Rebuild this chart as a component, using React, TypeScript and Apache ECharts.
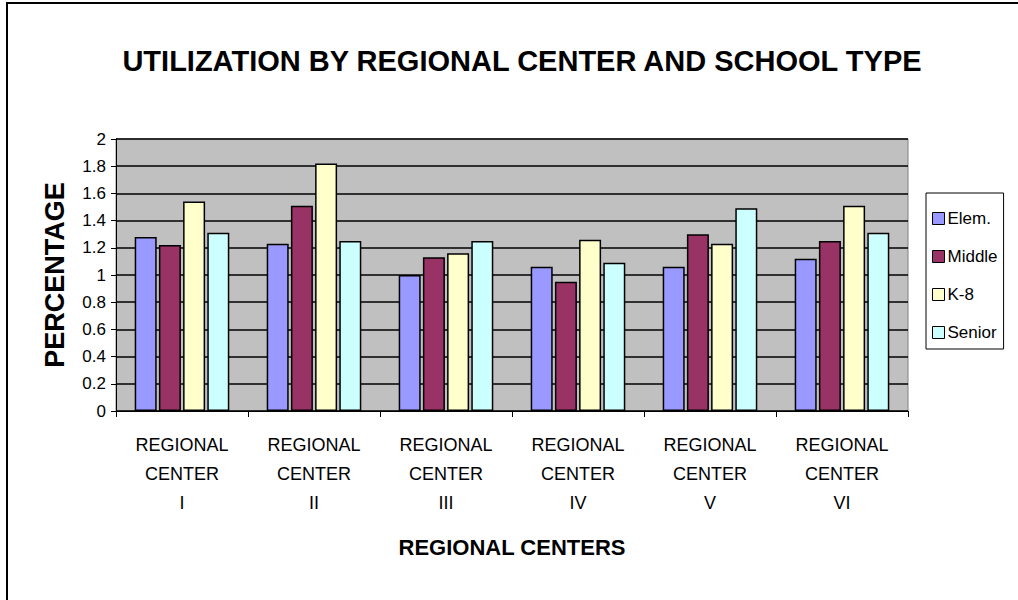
import React, { useEffect, useRef } from "react";
import * as echarts from "echarts";

const categories = ["REGIONAL\nCENTER\nI", "REGIONAL\nCENTER\nII", "REGIONAL\nCENTER\nIII", "REGIONAL\nCENTER\nIV", "REGIONAL\nCENTER\nV", "REGIONAL\nCENTER\nVI"];
const elem = [1.28, 1.23, 1.0, 1.06, 1.06, 1.12];
const middle = [1.22, 1.51, 1.13, 0.95, 1.3, 1.25];
const k8 = [1.54, 1.82, 1.16, 1.26, 1.23, 1.51];
const senior = [1.31, 1.25, 1.25, 1.09, 1.49, 1.31];
const seriesNames = ["Elem.", "Middle", "K-8", "Senior"];
const colors = ["#9999FF", "#993366", "#FFFFCC", "#CCFFFF"];

const FONT = "'Liberation Sans Narrow', 'Arial Narrow', 'Liberation Sans', sans-serif";

export default function App() {
  const ref = useRef<HTMLDivElement>(null);
  useEffect(() => {
    const chart = echarts.init(ref.current!, undefined, { renderer: "svg" });
    const data = [elem, middle, k8, senior];
    chart.setOption({
      animation: false,
      backgroundColor: "#ffffff",
      title: {
        text: "UTILIZATION BY REGIONAL CENTER AND SCHOOL TYPE",
        left: 517,
        textAlign: "center",
        top: 41,
        textStyle: { fontFamily: FONT, fontWeight: "bold", fontSize: 29, color: "#000" },
      },
      legend: {
        orient: "vertical",
        left: 926,
        top: 193,
        width: 87,
        padding: [17, 6, 8, 6],
        itemGap: 21,
        itemWidth: 12,
        itemHeight: 12,
        borderColor: "#000",
        borderWidth: 1,
        backgroundColor: "#fff",
        icon: "rect",
        data: seriesNames,
        textStyle: { fontFamily: FONT, fontSize: 17, color: "#000", padding: [0, 0, 0, -2] },
        itemStyle: { borderColor: "#000", borderWidth: 1 },
      },
      grid: { left: 116, top: 139, width: 792, height: 272, backgroundColor: "#C0C0C0", show: true, borderWidth: 1, borderColor: "#808080" },
      xAxis: {
        type: "category",
        data: categories,
        name: "REGIONAL CENTERS",
        nameLocation: "middle",
        nameGap: 125,
        nameTextStyle: { fontFamily: FONT, fontWeight: "bold", fontSize: 22, color: "#000" },
        axisLine: { lineStyle: { color: "#000", width: 1 } },
        axisTick: { show: true, length: 6, lineStyle: { color: "#000" } },
        axisLabel: { fontFamily: FONT, fontSize: 18, color: "#000", lineHeight: 29, margin: 19, interval: 0 },
      },
      yAxis: {
        type: "value",
        min: 0,
        max: 2,
        interval: 0.2,
        name: "PERCENTAGE",
        nameLocation: "middle",
        nameGap: 48,
        nameRotate: 90,
        nameTextStyle: { fontFamily: FONT, fontWeight: "bold", fontSize: 27, color: "#000" },
        axisLine: { show: true, lineStyle: { color: "#000", width: 1 } },
        axisTick: { show: true, length: 5, lineStyle: { color: "#000" } },
        axisLabel: { fontFamily: FONT, fontSize: 17, color: "#000", margin: 10, formatter: (v: number) => String(Math.round(v * 10) / 10) },
        splitLine: { show: true, lineStyle: { color: "#000", width: 1.5 } },
      },
      series: seriesNames.map((n, i) => ({
        name: n,
        type: "bar",
        data: data[i],
        barWidth: 22,
        barGap: "10%",
        itemStyle: { color: colors[i], borderColor: "#000", borderWidth: 1.5 },
      })),
      graphic: [
        { type: "rect", shape: { x: 7, y: 3, width: 1100, height: 700 }, style: { fill: "none", stroke: "#000", lineWidth: 2 }, silent: true },
      ],
    });
    return () => chart.dispose();
  }, []);
  return <div ref={ref} style={{ position: "fixed", left: 0, top: 0, width: 1018, height: 600 }} />;
}
